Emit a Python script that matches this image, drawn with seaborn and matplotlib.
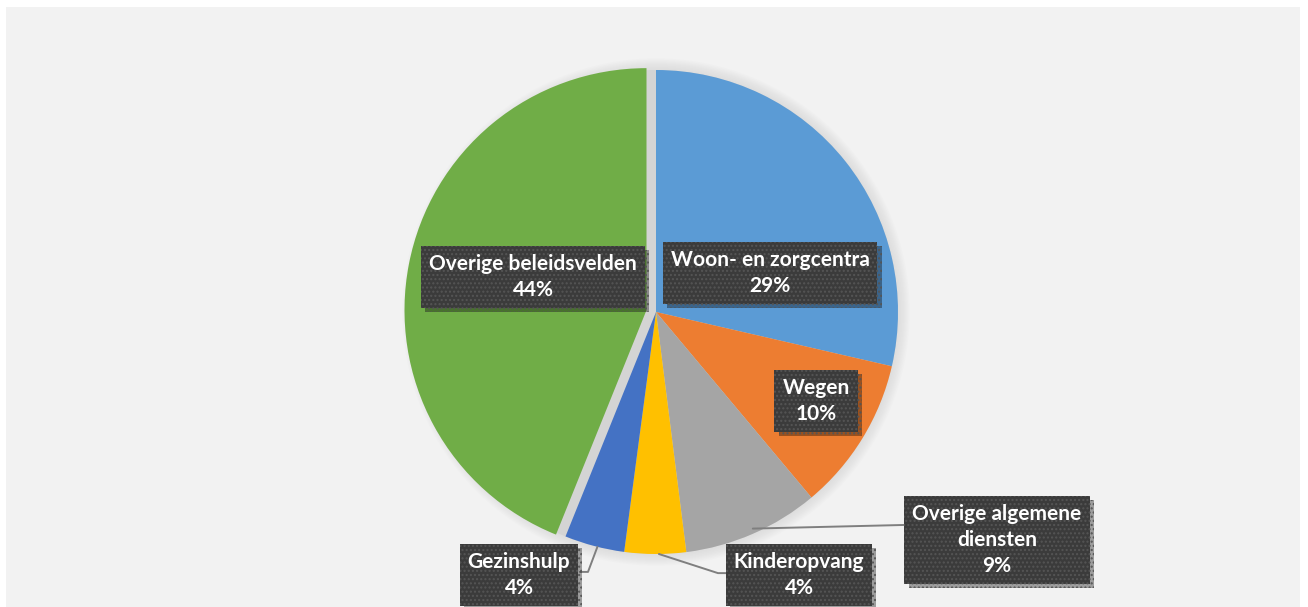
import matplotlib
matplotlib.use("Agg")
import matplotlib.pyplot as plt
import matplotlib.patheffects as pe
from matplotlib.patches import Rectangle, Circle
import numpy as np
import seaborn as sns

# shares of the budget (percent), clockwise from 12 o'clock
categories = ["Woon- en zorgcentra", "Wegen", "Overige algemene\ndiensten",
              "Kinderopvang", "Gezinshulp", "Overige beleidsvelden"]
shares = [28.6, 10.3, 9.1, 4.1, 4.0, 43.9]
labels_pct = ["29%", "10%", "9%", "4%", "4%", "44%"]

colors = sns.color_palette(["#5B9BD5", "#ED7D31", "#A5A5A5",
                            "#FFC000", "#4472C4", "#70AD47"])

# label box centres, in pie-radius units
label_pos = [(0.471, 0.161), (0.661, -0.368), (1.409, -0.942),
             (0.591, -1.087), (-0.566, -1.087), (-0.508, 0.145)]

sns.set_style("white")
plt.rcParams["font.family"] = ["Lato", "DejaVu Sans"]

fig = plt.figure(figsize=(13.08, 6.07), dpi=100)
fig.patch.set_facecolor("white")

ax = fig.add_axes([0, 0, 1, 1])
ax.patch.set_alpha(0)
ax.add_patch(Rectangle((6 / 1308, 0), 1294 / 1308, 600 / 607,
                       transform=fig.transFigure, facecolor="#f2f2f2",
                       edgecolor="none", zorder=-10))

# soft shadow behind the pie
for k in range(8):
    ax.add_patch(Circle((0, 0), 1.0 + 0.006 * (8 - k), color="#bfbfbf",
                        alpha=0.05, lw=0, zorder=0))
ax.add_patch(Circle((0, 0), 1.0, color="#d4d4d4", lw=0, zorder=0))

wedges, _ = ax.pie(shares, colors=colors, startangle=90, counterclock=False,
                   explode=[0, 0, 0, 0, 0, 0.04], radius=1.0,
                   wedgeprops=dict(linewidth=0))

# leader lines
line_kw = dict(color="#7f7f7f", lw=1.4, zorder=3)
ax.plot([0.40, 1.025], [-0.895, -0.880], **line_kw)
ax.plot([0.012, 0.256, 0.302], [-1.0, -1.079, -1.079], **line_kw)
ax.plot([-0.242, -0.281, -0.314], [-0.970, -1.074, -1.074], **line_kw)

for name, pct, (x, y) in zip(categories, labels_pct, label_pos):
    t = ax.text(x, y, f"{name}\n{pct}", ha="center", va="center",
                color="white", fontsize=15, fontweight="bold",
                linespacing=1.4, zorder=5,
                bbox=dict(boxstyle="square,pad=0.38", facecolor="#3b3b3b",
                          edgecolor="#555555", linewidth=0, hatch="...."))
    t.get_bbox_patch().set_path_effects(
        [pe.SimplePatchShadow(offset=(3, -3), shadow_rgbFace="black", alpha=0.35),
         pe.Normal()])

ax.set_xlim(-656 / 242, (1308 - 656) / 242)
ax.set_ylim(-295 / 242, 312 / 242)
ax.set_aspect("auto")
ax.axis("off")

fig.savefig("out.png", dpi=100, facecolor="white")
